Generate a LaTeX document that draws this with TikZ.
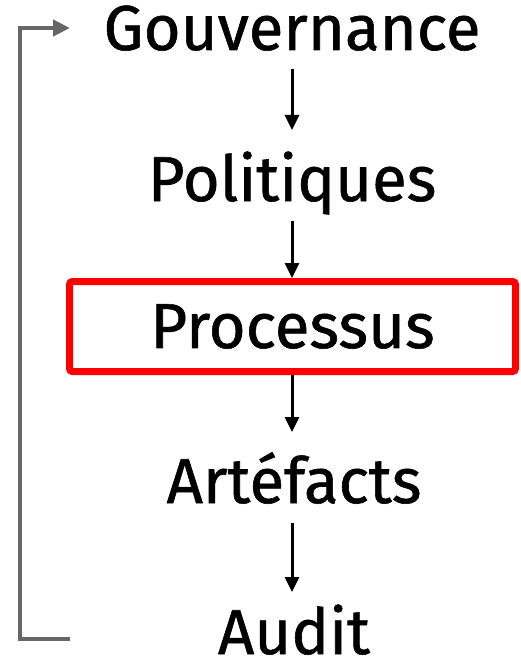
\documentclass[tikz,border=0pt]{standalone}
\usepackage{fontspec}
\setmainfont{Fira Sans}[FakeBold=0.9]
\usetikzlibrary{arrows.meta}
\definecolor{loopgray}{HTML}{666666}
\definecolor{boxred}{HTML}{FF0000}
\tikzset{
  stagefont/.style={font=\fontsize{63.5}{63.5}\selectfont},
  stage/.style={stagefont, inner xsep=0pt, inner ysep=0pt, outer sep=0pt,
    text height=46pt, text depth=0pt, anchor=base},
  flow/.style={line width=3pt, -{Triangle[width=14pt,length=15pt]}},
  loop/.style={line width=4.5pt, loopgray, -{Triangle[width=16pt,length=17pt]}},
  focus/.style={stagefont, draw=boxred, line width=7pt, rounded corners=3pt,
    minimum width=446pt, minimum height=90pt, inner sep=0pt, anchor=center}
}
\begin{document}
\begin{tikzpicture}[x=1pt, y=-1pt]
  \useasboundingbox (0,0) rectangle (521,666);
  % the stages, top to bottom
  \node[stage] (gov)   at (292,50)  {Gouvernance};
  \node[stage] (pol)   at (292,201) {Politiques};
  \node[focus] (proc)  at (292.5,326.5) {\raisebox{-3pt}{Processus}};
  \node[stage] (art)   at (294,503) {Artéfacts};
  \node[stage] (audit) at (294,654) {Audit};
  % downward flow between the stages
  \draw[flow, shorten <=19pt, shorten >=25pt] (gov.south -| 292,0) -- (pol.north -| 292,0);
  \draw[flow, shorten <=20pt] (pol.south -| 292,0) -- (proc.north -| 292,0);
  \draw[flow, shorten >=25pt] (proc.south -| 292,0) -- (art.north -| 292,0);
  \draw[flow, shorten <=20pt, shorten >=16pt] (art.south -| 292,0) -- (audit.north -| 292,0);
  % feedback from the audit back to governance
  \coordinate (fbStart) at (70,639);
  \coordinate (fbEnd) at (70,28);
  \draw[loop] (fbStart) -- (20,639) |- (fbEnd);
\end{tikzpicture}
\end{document}
